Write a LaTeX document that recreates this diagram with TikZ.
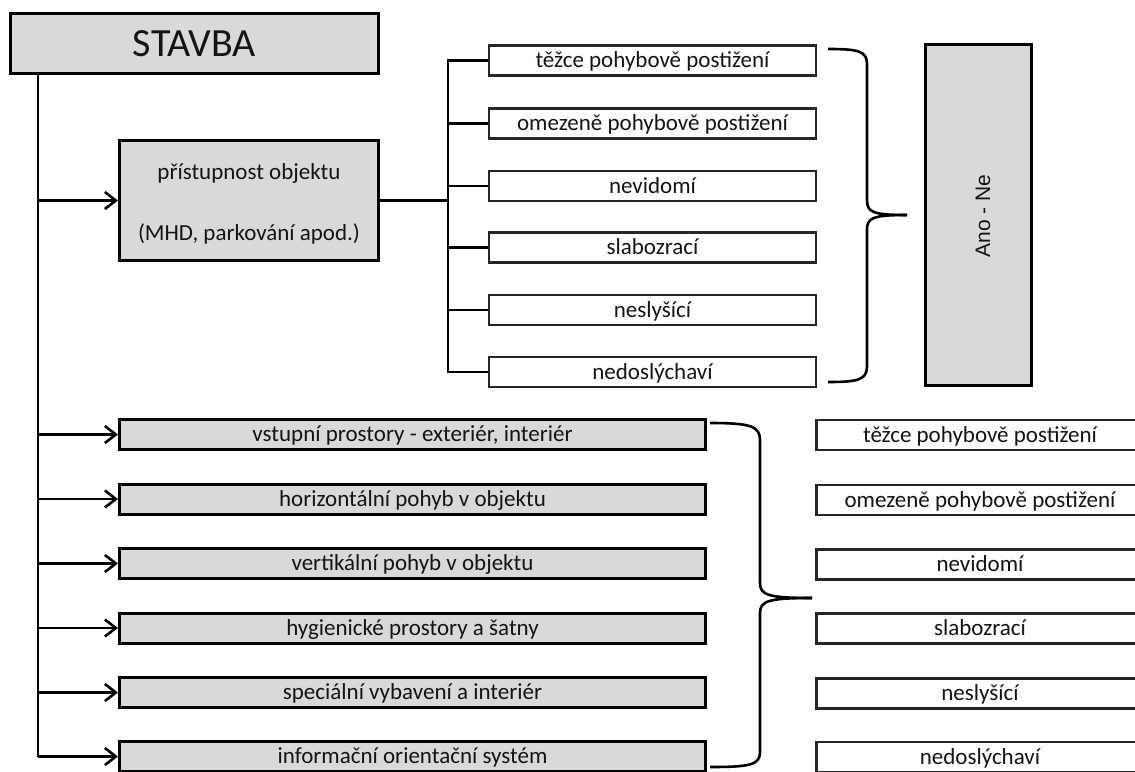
\documentclass[tikz,border=0pt]{standalone}
\usepackage{fontspec}
\setmainfont{Carlito}
\newfontfamily\arialfont{Liberation Sans}
\usetikzlibrary{arrows.meta,calc}
\definecolor{boxgray}{HTML}{D9D9D9}
\definecolor{txt}{HTML}{141414}
\tikzset{
  graybox/.style={draw=black, fill=boxgray, line width=3pt, inner sep=0pt, text=txt,
    font=\fontsize{23}{30}\selectfont},
  oneline/.style={text height=17pt, text depth=2.5pt},
  widegray/.style={graybox, oneline, minimum width=586pt, minimum height=30pt},
  whitebox/.style={draw=black!85, fill=white, line width=2.2pt, inner sep=0pt, text=txt,
    font=\fontsize{23}{30}\selectfont, minimum width=327pt, minimum height=30pt, oneline},
  conn/.style={line width=2.6pt, draw=black},
  arr/.style={conn, -{Straight Barb[length=11pt,width=17pt,line width=2.6pt]}},
  bracestyle/.style={line width=2.6pt, draw=black, line join=round}
}
\begin{document}
\begin{tikzpicture}[x=1pt,y=-1pt]
\useasboundingbox (0,0) rectangle (1135,771);

% main title
\node[graybox, minimum width=368pt, minimum height=60pt, font=\fontsize{40}{44}\selectfont,
  text height=27pt, text depth=1pt] (stavba) at (194.5,43.5) {STAVBA};

% accessibility box
\node[graybox, minimum width=259pt, minimum height=120pt] (pr) at (249,200.5) {};
\node[font=\fontsize{23}{30}\selectfont, text=txt, oneline, inner sep=0pt] (prA) at (249,172) {přístupnost objektu};
\node[font=\fontsize{23}{30}\selectfont, text=txt, oneline, inner sep=0pt] (prB) at (249,233) {(MHD, parkování apod.)};

% top group
\node[whitebox] (t1) at (652.5,60.5) {těžce pohybově postižení};
\node[whitebox] (t2) at (652.5,123.5) {omezeně pohybově postižení};
\node[whitebox] (t3) at (652.5,186) {nevidomí};
\node[whitebox] (t4) at (652.5,247.5) {slabozrací};
\node[whitebox] (t5) at (652.5,310) {neslyšící};
\node[whitebox] (t6) at (652.5,372) {nedoslýchaví};

% Ano - Ne
\node[graybox, line width=2.8pt, minimum width=106pt, minimum height=341pt] (ano) at (978.5,215) {};
\node[rotate=90, font=\arialfont\fontsize{21}{24}\selectfont, text=txt] (anotxt) at (983,216) {Ano - Ne};

% bottom gray group
\node[widegray] (b1) at (412.5,434.5) {vstupní prostory - exteriér, interiér};
\node[widegray] (b2) at (412.5,499) {horizontální pohyb v objektu};
\node[widegray] (b3) at (412.5,563.5) {vertikální pohyb v objektu};
\node[widegray] (b4) at (412.5,628) {hygienické prostory a šatny};
\node[widegray] (b5) at (412.5,692.5) {speciální vybavení a interiér};
\node[widegray] (b6) at (412.5,756.5) {informační orientační systém};

% bottom right group
\node[whitebox] (r1) at (980,435) {těžce pohybově postižení};
\node[whitebox] (r2) at (980,500) {omezeně pohybově postižení};
\node[whitebox] (r3) at (980,564.5) {nevidomí};
\node[whitebox] (r4) at (980,628.5) {slabozrací};
\node[whitebox] (r5) at (980,693.5) {neslyšící};
\node[whitebox] (r6) at (980,757) {nedoslýchaví};

% trunk
\coordinate (trunk) at (38,75);
\draw[conn] (trunk) -- (trunk |- b6.west);
\draw[arr] (trunk |- pr.west) -- (pr.west);
\foreach \b in {b1,b2,b3,b4,b5} {\draw[arr] (trunk |- \b.west) -- (\b.west);}
\draw[arr] (trunk |- b6.west) -- (b6.west);

% split to top group
\coordinate (split) at (448,200.5);
\draw[conn] (pr.east) -- (split);
\draw[conn] (t1.west) -- (split |- t1.west) -- (split |- t6.west) -- (t6.west);
\foreach \t in {t2,t3,t4,t5} {\draw[conn] (split |- \t.west) -- (\t.west);}

% top brace
\coordinate (tbA) at (828,49);
\coordinate (tbTip) at (907,215);
\coordinate (tbB) at (828,382);
\draw[bracestyle] (tbA) .. controls (858,49) and (867,51) .. (867,64) -- (867,200)
  .. controls (867,212) and (872,215) .. (tbTip);
\draw[bracestyle] (tbTip) .. controls (872,215) and (867,218) .. (867,230) -- (867,366)
  .. controls (867,380) and (858,382) .. (tbB);

% bottom brace
\coordinate (bbA) at (710,423);
\coordinate (bbTip) at (812,598);
\coordinate (bbB) at (710,767);
\draw[bracestyle] (bbA) .. controls (750,423) and (760,426) .. (760,440) -- (760,583)
  .. controls (760,595) and (768,598) .. (bbTip);
\draw[bracestyle] (bbTip) .. controls (768,598) and (760,601) .. (760,613) -- (760,752)
  .. controls (760,765) and (750,767) .. (bbB);
\end{tikzpicture}
\end{document}
